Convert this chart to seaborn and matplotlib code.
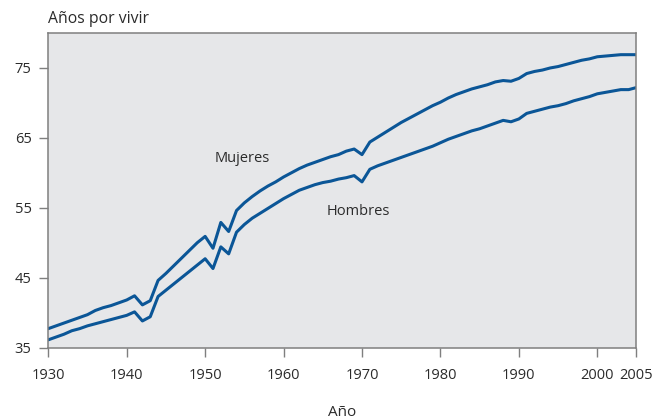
import pandas as pd
import matplotlib.pyplot as plt
import seaborn as sns

# Años de esperanza de vida, 1930-2005
years = list(range(1930, 2006))

mujeres = [
    37.7, 38.1, 38.5, 38.9, 39.3, 39.7, 40.3, 40.7, 41.0, 41.4,
    41.8, 42.4, 41.1, 41.7, 44.6, 45.6, 46.7, 47.8, 48.9, 50.0,
    50.9, 49.2, 52.9, 51.6, 54.6, 55.7, 56.6, 57.4, 58.1, 58.7,
    59.4, 60.0, 60.6, 61.1, 61.5, 61.9, 62.3, 62.6, 63.1, 63.4,
    62.6, 64.4, 65.1, 65.8, 66.5, 67.2, 67.8, 68.4, 69.0, 69.6,
    70.1, 70.7, 71.2, 71.6, 72.0, 72.3, 72.6, 73.0, 73.2, 73.1,
    73.5, 74.2, 74.5, 74.7, 75.0, 75.2, 75.5, 75.8, 76.1, 76.3,
    76.6, 76.7, 76.8, 76.9, 76.9, 76.9,
]

hombres = [
    36.1, 36.5, 36.9, 37.4, 37.7, 38.1, 38.4, 38.7, 39.0, 39.3,
    39.6, 40.1, 38.8, 39.4, 42.3, 43.2, 44.1, 45.0, 45.9, 46.8,
    47.7, 46.3, 49.4, 48.4, 51.5, 52.6, 53.5, 54.2, 54.9, 55.6,
    56.3, 56.9, 57.5, 57.9, 58.3, 58.6, 58.8, 59.1, 59.3, 59.6,
    58.7, 60.5, 61.0, 61.4, 61.8, 62.2, 62.6, 63.0, 63.4, 63.8,
    64.3, 64.8, 65.2, 65.6, 66.0, 66.3, 66.7, 67.1, 67.5, 67.3,
    67.7, 68.5, 68.8, 69.1, 69.4, 69.6, 69.9, 70.3, 70.6, 70.9,
    71.3, 71.5, 71.7, 71.9, 71.9, 72.2,
]

x_ticks = [1930, 1940, 1950, 1960, 1970, 1980, 1990, 2000, 2005]
y_ticks = [35, 45, 55, 65, 75]

df = pd.DataFrame({
    'Año': years * 2,
    'Años por vivir': mujeres + hombres,
    'Sexo': ['Mujeres'] * len(years) + ['Hombres'] * len(years),
})

sns.set_theme(style='ticks')
plt.rcParams['font.family'] = ['Open Sans', 'DejaVu Sans']

line_color = '#0b5697'
text_color = '#2b2b2b'
edge_color = '#7f7f7f'

fig = plt.figure(figsize=(6.66, 4.2), dpi=100)
ax = fig.add_axes([0.0725, 0.1726, 0.8832, 0.7488])
ax.set_facecolor('#e6e7e9')

sns.lineplot(data=df, x='Año', y='Años por vivir', hue='Sexo',
             palette={'Mujeres': line_color, 'Hombres': line_color},
             linewidth=2.2, legend=False, ax=ax)

ax.set_xlim(1930, 2005)
ax.set_ylim(35, 80)
ax.set_xticks(x_ticks)
ax.set_yticks(y_ticks)
ax.tick_params(axis='both', direction='out', length=6.5, width=1,
               color=edge_color, labelsize=10.5, labelcolor=text_color)
ax.tick_params(axis='x', pad=8)
ax.tick_params(axis='y', pad=5.5)

for side in ['top', 'right', 'bottom', 'left']:
    ax.spines[side].set_color(edge_color)
    ax.spines[side].set_linewidth(1.1)

ax.set_xlabel('Año', fontsize=11, color=text_color, labelpad=16)
ax.set_ylabel('')
ax.text(0, 1.02, 'Años por vivir', transform=ax.transAxes,
        ha='left', va='bottom', fontsize=11.3, color=text_color)

ax.text(1954.7, 62.1, 'Mujeres', ha='center', va='center',
        fontsize=10.5, color=text_color)
ax.text(1969.5, 54.4, 'Hombres', ha='center', va='center',
        fontsize=10.5, color=text_color)

fig.savefig('out.png', dpi=100)
plt.close(fig)
